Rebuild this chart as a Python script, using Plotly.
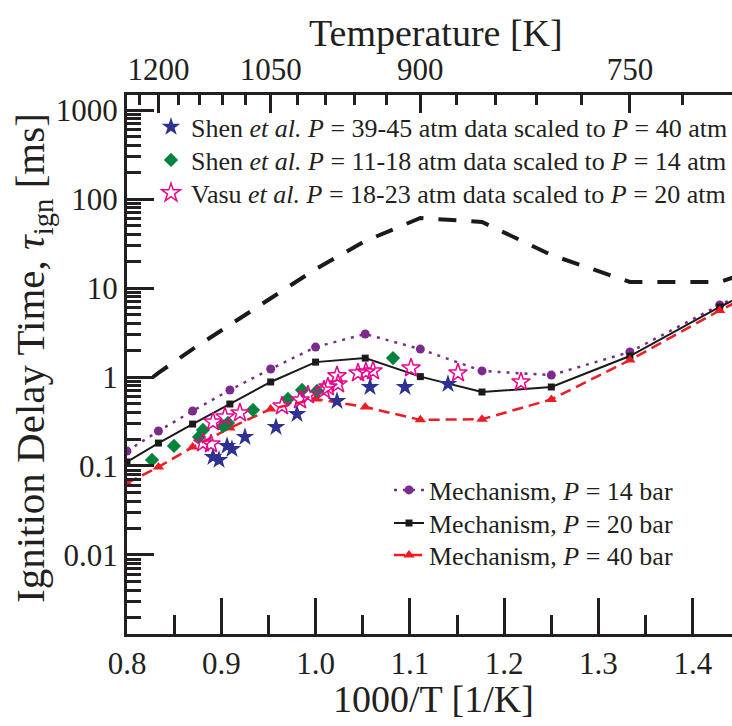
import plotly.graph_objects as go

# ---------------- data ----------------
# Mechanism temperatures [K] (last one lies just beyond the visible range)
T_mech = [1250, 1200, 1150, 1100, 1050, 1000, 950, 900, 850, 800, 750, 700, 675]
tau_mech_14 = [0.147, 0.247, 0.415, 0.714, 1.23, 2.17, 3.04, 2.06, 1.17, 1.05, 1.91, 6.44, 12.0]
tau_mech_20 = [0.111, 0.181, 0.296, 0.497, 0.879, 1.47, 1.63, 1.01, 0.678, 0.772, 1.72, 6.12, 11.7]
tau_mech_40 = [0.064, 0.0975, 0.163, 0.267, 0.437, 0.566, 0.460, 0.33, 0.335, 0.56, 1.55, 5.6, 10.7]

# long-dashed black curve (no legend entry)
x_dash = [0.8276, 0.8333, 0.8696, 0.9091, 0.9524, 1.0, 1.0526, 1.1111, 1.1765, 1.25, 1.3333, 1.4286, 1.4815]
tau_dash = [1.0, 1.11, 2.06, 3.84, 7.72, 16.3, 33.7, 61.2, 55.2, 23.5, 11.7, 11.7, 18.0]

# Shen et al. 39-45 atm scaled to 40 atm
x_shen40 = [0.8912, 0.8976, 0.9061, 0.9113, 0.9251, 0.958, 0.9803, 1.0227, 1.0577, 1.0948, 1.1404]
tau_shen40 = [0.126, 0.117, 0.168, 0.155, 0.212, 0.274, 0.384, 0.537, 0.772, 0.772, 0.834]

# Shen et al. 11-18 atm scaled to 14 atm
x_shen14 = [0.8265, 0.8498, 0.8764, 0.8806, 0.9018, 0.9071, 0.9336, 0.9707, 0.9856, 1.0015, 1.0821]
tau_shen14 = [0.117, 0.168, 0.212, 0.254, 0.281, 0.304, 0.426, 0.566, 0.714, 0.696, 1.63]

# Vasu et al. 18-23 atm scaled to 20 atm
x_vasu20 = [0.8806, 0.8891, 0.8912, 0.9039, 0.9198, 0.9644, 0.9835, 0.9919, 1.0089, 1.0131,
            1.0227, 1.0238, 1.0450, 1.0534, 1.0609, 1.1012, 1.1510, 1.2178]
tau_vasu20 = [0.181, 0.177, 0.312, 0.355, 0.394, 0.472, 0.552, 0.628, 0.714, 0.772,
              1.03, 0.834, 1.11, 1.14, 1.17, 1.26, 1.11, 0.879]

# axis ticks
x_range = [0.8, 1.4416]
y_tickvals = [0.01, 0.1, 1, 10, 100, 1000]
y_ticktext = ["0.01", "0.1", "1", "10", "100", "1000"]
T_major = [1200, 1050, 900, 750]
T_minor = [1230, 1170, 1140, 1110, 1080, 1020, 990, 960, 930, 870, 840, 810, 780, 720]

x_mech = [1000.0 / T for T in T_mech]

FONT = "Liberation Serif"
TXT = "#231f20"
AX = "#231f20"

fig = go.Figure()

# drawn against the (identical) top axis so that the temperature axis is rendered
fig.add_trace(go.Scatter(
    x=x_dash, y=tau_dash, mode="lines", showlegend=False, xaxis="x2", yaxis="y",
    line=dict(color="#1a1a1a", width=4, dash="18px,15px")))

fig.add_trace(go.Scatter(
    x=x_mech, y=tau_mech_14, mode="lines+markers", name="Mechanism, <i>P</i> = 14 bar",
    line=dict(color="#7b2c8a", width=2.5, dash="3px,6px"),
    marker=dict(symbol="circle", size=9, color="#7b2c8a"), legend="legend4"))
fig.add_trace(go.Scatter(
    x=x_mech, y=tau_mech_20, mode="lines+markers", name="Mechanism, <i>P</i> = 20 bar",
    line=dict(color="#1a1a1a", width=2),
    marker=dict(symbol="square", size=7, color="#1a1a1a"), legend="legend5"))
fig.add_trace(go.Scatter(
    x=x_mech, y=tau_mech_40, mode="lines+markers", name="Mechanism, <i>P</i> = 40 bar",
    line=dict(color="#ed1c24", width=2.5, dash="11px,6px"),
    marker=dict(symbol="triangle-up", size=10, color="#ed1c24"), legend="legend6"))

fig.add_trace(go.Scatter(
    x=x_shen40, y=tau_shen40, mode="markers",
    name="Shen <i>et al.</i> <i>P</i> = 39-45 atm data scaled to <i>P</i> = 40 atm",
    marker=dict(symbol="star", size=14, color="#2e3192", line=dict(width=0)), legend="legend"))
fig.add_trace(go.Scatter(
    x=x_shen14, y=tau_shen14, mode="markers",
    name="Shen <i>et al.</i> <i>P</i> = 11-18 atm data scaled to <i>P</i> = 14 atm",
    marker=dict(symbol="diamond", size=11, color="#00843d", line=dict(width=0)), legend="legend2"))
fig.add_trace(go.Scatter(
    x=x_vasu20, y=tau_vasu20, mode="markers",
    name="Vasu <i>et al.</i> <i>P</i> = 18-23 atm data scaled to <i>P</i> = 20 atm",
    marker=dict(symbol="star-open", size=14, color="#ec008c", line=dict(width=1.5, color="#ec008c")),
    legend="legend3"))

def leg(ypix, xpix):
    return dict(x=(xpix - 127) / 605.0, y=1 - (ypix - 95) / 539.0, xanchor="left", yanchor="middle",
                bgcolor="rgba(0,0,0,0)", borderwidth=0,
                font=dict(family=FONT, size=26, color=TXT))

def px_x(p):
    return (p - 127) / 605.0

def px_y(p):
    return 1 - (p - 95) / 539.0

tickfont = dict(family=FONT, size=31, color=TXT)
titlefont = dict(family=FONT, size=38, color=TXT)

fig.update_layout(
    width=732, height=726,
    margin=dict(l=127, r=0, t=95, b=92, autoexpand=False),
    paper_bgcolor="white", plot_bgcolor="white",
    font=dict(family=FONT, color=TXT),
    legend=leg(127, 151), legend2=leg(160, 151), legend3=leg(193, 151),
    legend4=leg(490, 389), legend5=leg(523, 389), legend6=leg(555, 389),
    xaxis=dict(
        range=x_range, showline=True, linewidth=3, linecolor=AX, mirror=False,
        ticks="inside", ticklen=36, tickwidth=2.5, tickcolor=AX,
        tick0=0.8, dtick=0.1, tickformat=".1f",
        minor=dict(ticks="inside", ticklen=19, tickwidth=2.5, tickcolor=AX, dtick=0.05, tick0=0.8),
        showgrid=False, zeroline=False, tickfont=tickfont,
    ),
    xaxis2=dict(
        overlaying="x", side="top", anchor="y", range=x_range,
        showline=True, linewidth=3, linecolor=AX,
        tickmode="array", tickvals=[1000.0 / T for T in T_major], ticktext=[str(T) for T in T_major],
        ticks="inside", ticklen=18, tickwidth=2.5, tickcolor=AX,
        minor=dict(tickmode="array", tickvals=[1000.0 / T for T in T_minor],
                   ticks="inside", ticklen=10, tickwidth=2.5, tickcolor=AX),
        showgrid=False, zeroline=False, tickfont=tickfont,
    ),
    yaxis=dict(
        type="log", range=[-2.888, 3.169], showline=True, linewidth=3, linecolor=AX,
        tickmode="array", tickvals=y_tickvals, ticktext=y_ticktext,
        ticks="inside", ticklen=27, tickwidth=2.5, tickcolor=AX,
        minor=dict(tickmode="array",
                   tickvals=[k * 10.0 ** n for n in range(-3, 4) for k in range(2, 10)],
                   ticks="inside", ticklen=14, tickwidth=2.5, tickcolor=AX),
        showgrid=False, zeroline=False, tickfont=tickfont,
    ),
    annotations=[
        dict(text="Temperature [K]", xref="paper", yref="paper", x=px_x(436), y=px_y(33),
             xanchor="center", yanchor="middle", showarrow=False, font=titlefont),
        dict(text="1000/T [1/K]", xref="paper", yref="paper", x=px_x(433), y=px_y(699),
             xanchor="center", yanchor="middle", showarrow=False, font=titlefont),
        dict(text="Ignition Delay Time, <i>τ</i><sub>ign</sub> [ms]", xref="paper", yref="paper",
             x=px_x(33), y=px_y(358), xanchor="center", yanchor="middle", textangle=-90,
             showarrow=False, font=dict(family=FONT, size=41, color=TXT)),
    ],
)

fig.write_html("out.html")
